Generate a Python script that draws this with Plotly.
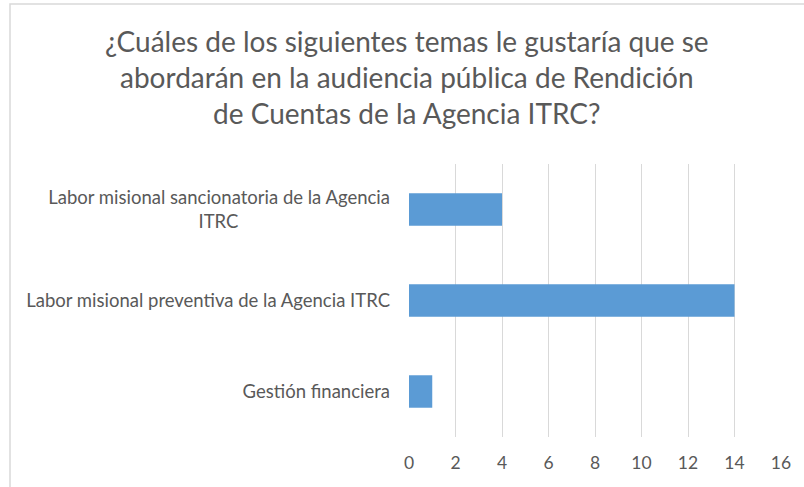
import plotly.graph_objects as go

# Datos del gráfico
temas = [
    "Gestión financiera",
    "Labor misional preventiva de la Agencia ITRC",
    "Labor misional sancionatoria de la Agencia<br>ITRC" + "\u00a0" * 32,
]
respuestas = [1, 14, 4]
ticks_x = [0, 2, 4, 6, 8, 10, 12, 14, 16]

titulo = ("¿Cuáles de los siguientes temas le gustaría que se<br>"
          "abordarán en la audiencia pública de Rendición<br>"
          "de Cuentas de la Agencia ITRC?")

gris = "#595959"

fig = go.Figure()
fig.add_trace(go.Bar(
    x=respuestas,
    y=temas,
    orientation="h",
    marker=dict(color="#5b9bd5", line=dict(width=0)),
    showlegend=False,
))

fig.update_layout(
    width=804,
    height=487,
    paper_bgcolor="white",
    plot_bgcolor="white",
    margin=dict(l=409, r=23, t=164, b=50),
    bargap=0.643,
    font=dict(family="Lato", color=gris, size=18),
    title=dict(
        text=titulo,
        x=0.506,
        xanchor="center",
        y=0.894,
        yanchor="top",
        font=dict(family="Lato", size=28, color=gris),
    ),
    xaxis=dict(
        range=[0, 16],
        tickvals=ticks_x,
        showgrid=True,
        gridcolor="#d9d9d9",
        gridwidth=1.3,
        zeroline=False,
        showline=False,
        ticks="",
        tickfont=dict(size=17.5, color=gris),
        ticklabelstandoff=13,
    ),
    yaxis=dict(
        showgrid=False,
        zeroline=False,
        showline=False,
        ticks="",
        tickfont=dict(size=18.5, color=gris),
        ticklabelstandoff=18,
    ),
    shapes=[dict(
        type="rect",
        xref="paper", yref="paper",
        x0=(10 - 409) / 372, x1=1.2,
        y0=-0.5, y1=1 + (164 - 4) / 273,
        line=dict(color="#d9d9d9", width=1.5),
        fillcolor="rgba(0,0,0,0)",
        layer="below",
    )],
)

fig.write_html("out.html", config={"displayModeBar": False},
               post_script="document.body.style.margin='0';")
